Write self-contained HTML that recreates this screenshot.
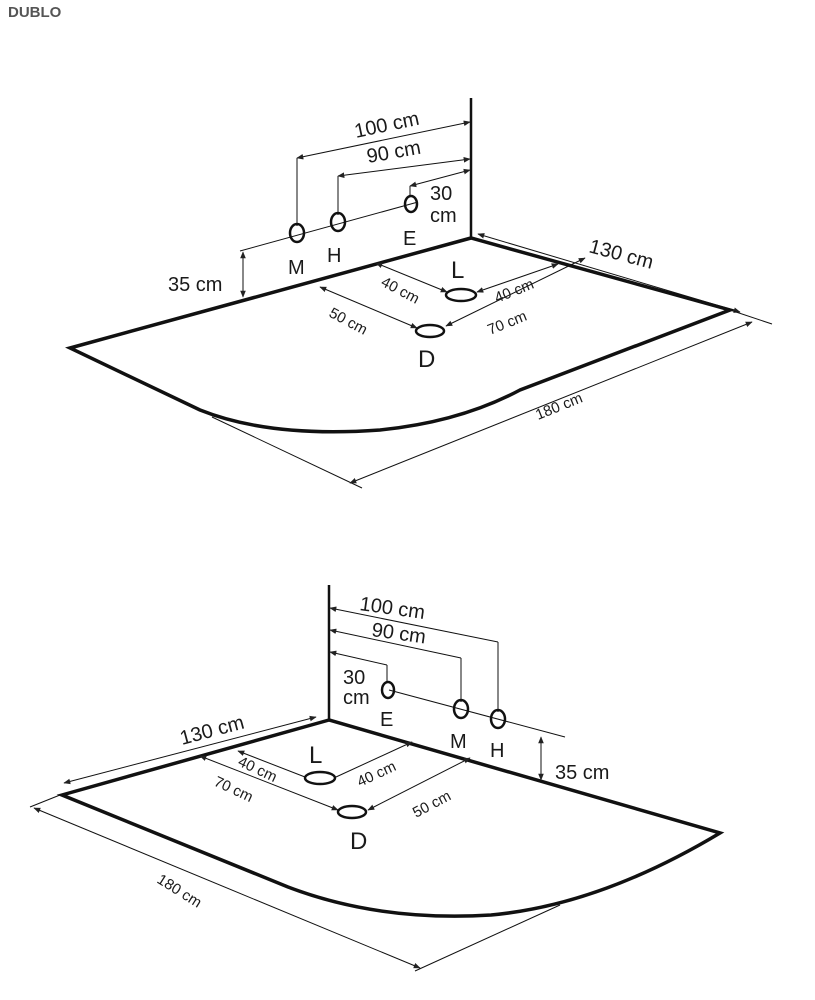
<!DOCTYPE html>
<html><head><meta charset="utf-8"><style>
html,body{margin:0;padding:0;background:#fff;width:815px;height:1000px;overflow:hidden}
svg{display:block}
text{font-family:"Liberation Sans",sans-serif;fill:#1a1a1a}
</style></head><body>
<svg width="815" height="1000" viewBox="0 0 815 1000" xmlns="http://www.w3.org/2000/svg">
<defs>
<marker id="a" viewBox="0 0 10 10" refX="9" refY="5" markerWidth="7" markerHeight="7" orient="auto-start-reverse"><path d="M0,1 L10,5 L0,9 z" fill="#222"/></marker>
</defs>
<text x="8" y="17" font-size="15" font-weight="bold" style="fill:#555">DUBLO</text>

<!-- TOP -->
<g stroke="#111" fill="none">
<line x1="471" y1="98" x2="471" y2="238" stroke-width="2.5"/>
<path d="M471,238 L70,348 L200,410 Q270,438 380,430 Q460,422 520,390 L730,310 Z" stroke-width="3.5" stroke-linejoin="miter"/>
<g stroke-width="1">
<line x1="478" y1="234" x2="740" y2="312" marker-start="url(#a)" marker-end="url(#a)"/>
<line x1="730" y1="310" x2="772" y2="324"/>
<line x1="212" y1="417" x2="362" y2="488"/>
<line x1="350" y1="483" x2="752" y2="322" marker-start="url(#a)" marker-end="url(#a)"/>
<line x1="240" y1="251" x2="418" y2="202"/>
<line x1="243" y1="252" x2="243" y2="297" marker-start="url(#a)" marker-end="url(#a)"/>
<line x1="297" y1="226" x2="297" y2="158"/>
<line x1="297" y1="158" x2="470" y2="122" marker-start="url(#a)" marker-end="url(#a)"/>
<line x1="338" y1="215" x2="338" y2="176"/>
<line x1="338" y1="176" x2="470" y2="159" marker-start="url(#a)" marker-end="url(#a)"/>
<line x1="410" y1="196" x2="410" y2="186"/>
<line x1="410" y1="186" x2="470" y2="170" marker-start="url(#a)" marker-end="url(#a)"/>
<line x1="376" y1="263" x2="447" y2="292" marker-start="url(#a)" marker-end="url(#a)"/>
<line x1="477" y1="292" x2="558" y2="264" marker-start="url(#a)" marker-end="url(#a)"/>
<line x1="320" y1="287" x2="417" y2="328" marker-start="url(#a)" marker-end="url(#a)"/>
<line x1="446" y1="326" x2="585" y2="258" marker-start="url(#a)" marker-end="url(#a)"/>
</g>
<g stroke-width="2.5">
<ellipse cx="297" cy="233" rx="7" ry="9"/>
<ellipse cx="338" cy="222" rx="7" ry="9"/>
<ellipse cx="411" cy="204" rx="6" ry="8"/>
<ellipse cx="461" cy="295" rx="15" ry="6"/>
<ellipse cx="430" cy="331" rx="14" ry="6"/>
</g>
</g>
<g font-size="20">
<text x="288" y="274">M</text><text x="327" y="262">H</text><text x="403" y="245">E</text>
<text x="451" y="278" font-size="24">L</text><text x="418" y="367" font-size="24">D</text>
<text x="168" y="291">35 cm</text>
<text x="0" y="0" transform="translate(356,138) rotate(-12)">100 cm</text>
<text x="0" y="0" transform="translate(368,163) rotate(-10)">90 cm</text>
<text x="430" y="200">30</text><text x="430" y="222">cm</text>
<text x="0" y="0" transform="translate(588,252) rotate(15)">130 cm</text>
</g>
<g font-size="15">
<text transform="translate(380,285) rotate(28)">40 cm</text>
<text transform="translate(497,303) rotate(-22)">40 cm</text>
<text transform="translate(328,316) rotate(28)">50 cm</text>
<text transform="translate(490,335) rotate(-22)">70 cm</text>
<text transform="translate(538,420) rotate(-22)">180 cm</text>
</g>

<!-- BOTTOM -->
<g stroke="#111" fill="none">
<line x1="329" y1="585" x2="329" y2="720" stroke-width="2.5"/>
<path d="M329,720 L62,795 L288,887 Q380,922 491,915 Q600,905 720,833 Z" stroke-width="3.5"/>
<g stroke-width="1">
<line x1="64" y1="783" x2="316" y2="717" marker-start="url(#a)" marker-end="url(#a)"/>
<line x1="60" y1="795" x2="30" y2="807"/>
<line x1="34" y1="808" x2="420" y2="968" marker-start="url(#a)" marker-end="url(#a)"/>
<line x1="560" y1="905" x2="415" y2="971"/>
<line x1="389" y1="690" x2="565" y2="737"/>
<line x1="541" y1="737" x2="541" y2="780" marker-start="url(#a)" marker-end="url(#a)"/>
<line x1="330" y1="608" x2="498" y2="642" marker-start="url(#a)"/>
<line x1="498" y1="642" x2="498" y2="712"/>
<line x1="330" y1="630" x2="461" y2="658" marker-start="url(#a)"/>
<line x1="461" y1="658" x2="461" y2="702"/>
<line x1="330" y1="652" x2="387" y2="665" marker-start="url(#a)"/>
<line x1="387" y1="665" x2="387" y2="682"/>
<line x1="238" y1="751" x2="305" y2="777" marker-start="url(#a)"/>
<line x1="336" y1="777" x2="412" y2="742" marker-end="url(#a)"/>
<line x1="200" y1="756" x2="338" y2="810" marker-start="url(#a)" marker-end="url(#a)"/>
<line x1="368" y1="810" x2="470" y2="758" marker-start="url(#a)" marker-end="url(#a)"/>
</g>
<g stroke-width="2.5">
<ellipse cx="388" cy="690" rx="6" ry="8"/>
<ellipse cx="461" cy="709" rx="7" ry="9"/>
<ellipse cx="498" cy="719" rx="7" ry="9"/>
<ellipse cx="320" cy="778" rx="15" ry="6"/>
<ellipse cx="352" cy="812" rx="14" ry="6"/>
</g>
</g>
<g font-size="20">
<text x="380" y="726">E</text><text x="450" y="748">M</text><text x="490" y="757">H</text>
<text x="309" y="763" font-size="24">L</text><text x="350" y="849" font-size="24">D</text>
<text x="343" y="684">30</text><text x="343" y="704">cm</text>
<text x="555" y="779">35 cm</text>
<text transform="translate(359,610) rotate(8)">100 cm</text>
<text transform="translate(371,636) rotate(8)">90 cm</text>
<text transform="translate(182,745) rotate(-15)">130 cm</text>
</g>
<g font-size="15">
<text transform="translate(237,765) rotate(25)">40 cm</text>
<text transform="translate(360,787) rotate(-25)">40 cm</text>
<text transform="translate(213,785) rotate(25)">70 cm</text>
<text transform="translate(416,818) rotate(-28)">50 cm</text>
<text transform="translate(156,882) rotate(32)">180 cm</text>
</g>
</svg>
</body></html>
